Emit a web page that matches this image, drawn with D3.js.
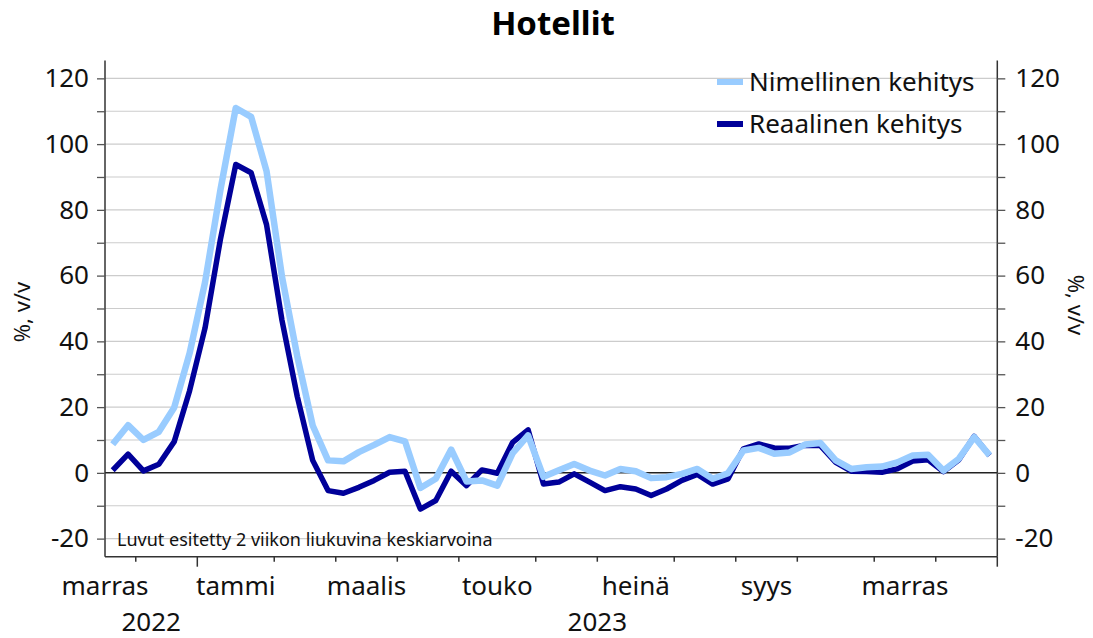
<!DOCTYPE html>
<html>
<head>
<meta charset="utf-8">
<script src="https://cdn.jsdelivr.net/npm/d3@7"></script>
<style>
  body { margin: 0; background: #fff; }
  svg { font-family: "Noto Sans", sans-serif; }
</style>
</head>
<body>
<div id="chart"></div>
<script>
// weekly data, 2 week moving averages, % y/y
const firstWeek = new Date(2022, 10, 21);   // monday of the first week
const lastWeek = new Date(2023, 11, 25);

const nominal = [8.7, 14.5, 10.0, 12.5, 19.9, 36.4, 57.9, 86, 111, 108.3,
  91.8, 59.8, 35.4, 14.4, 3.8, 3.5, 6.3, 8.5, 10.9, 9.6,
  -4.6, -1.8, 7.1, -2.6, -2.3, -3.9, 6.0, 11.4, -1.2, 0.8,
  2.7, 0.7, -0.8, 1.2, 0.5, -1.6, -1.3, -0.3, 1.2, -1.8,
  -0.1, 6.8, 7.6, 5.8, 6.2, 8.6, 9.1, 3.8, 1.2, 1.7,
  1.9, 3.2, 5.3, 5.5, 0.7, 4.3, 10.9, 5.3];

const real = [0.8, 5.7, 0.6, 2.6, 9.5, 25, 44, 71, 93.8, 91.3,
  75.5, 46.5, 23.2, 3.8, -5.4, -6.2, -4.4, -2.3, 0.2, 0.5,
  -11.0, -8.4, 0.5, -3.9, 0.9, -0.1, 9.3, 13.1, -3.4, -2.8,
  -0.3, -2.8, -5.4, -4.2, -4.9, -6.9, -4.9, -2.3, -0.5, -3.4,
  -1.8, 7.3, 8.8, 7.6, 7.5, 8.4, 8.3, 3.2, 0.5, 0.4,
  0.2, 1.2, 3.6, 4.0, 0.4, 4.0, 11.1, 5.3];

const seriesNames = ["Nimellinen kehitys", "Reaalinen kehitys"];
const seriesColors = ["#99ccff", "#000099"];

const monthLabels = ["marras", "tammi", "maalis", "touko", "heinä", "syys", "marras"];
const monthLabelDates = [[2022, 10], [2023, 0], [2023, 2], [2023, 4], [2023, 6], [2023, 8], [2023, 10]];
const yearLabels = ["2022", "2023"];
const yTicks = [-20, -10, 0, 10, 20, 30, 40, 50, 60, 70, 80, 90, 100, 110, 120];

const W = 1093, H = 638;
const plotLeft = 105, plotRight = 997.3, plotTop = 60.6, plotBottom = 556.7;

const svg = d3.select("#chart").append("svg")
    .attr("width", W)
    .attr("height", H);

const weeks = d3.timeMonday.range(firstWeek, d3.timeDay.offset(lastWeek, 1));
const domainEnd = d3.timeMonday.offset(lastWeek, 1);

const x = d3.scaleTime()
    .domain([firstWeek, domainEnd])
    .range([plotLeft, plotRight]);

const y = d3.scaleLinear()
    .domain([-25.5, 125.4])
    .range([plotBottom, plotTop]);

// middle of week
const xw = d => x(new Date(+d + 3.5 * 864e5));

// title
svg.append("text")
    .attr("x", 553)
    .attr("y", 35)
    .attr("text-anchor", "middle")
    .attr("font-size", "33px")
    .attr("font-weight", "bold")
    .text("Hotellit");

// gridlines
svg.append("g")
    .selectAll("line")
    .data(yTicks.filter(d => d !== 0))
    .join("line")
    .attr("x1", plotLeft).attr("x2", plotRight)
    .attr("y1", d => y(d)).attr("y2", d => y(d))
    .attr("stroke", "#cccccc")
    .attr("stroke-width", 1.2);

svg.append("line")
    .attr("x1", plotLeft).attr("x2", plotRight)
    .attr("y1", y(0)).attr("y2", y(0))
    .attr("stroke", "#222")
    .attr("stroke-width", 1.5);

// y axes
const yAxisL = svg.append("g")
    .attr("transform", `translate(${plotLeft},0)`)
    .call(d3.axisLeft(y).tickValues(yTicks).tickSize(8).tickPadding(8)
        .tickFormat(d => d % 20 === 0 ? String(d) : ""));
const yAxisR = svg.append("g")
    .attr("transform", `translate(${plotRight},0)`)
    .call(d3.axisRight(y).tickValues(yTicks).tickSize(8).tickPadding(10)
        .tickFormat(d => d % 20 === 0 ? String(d) : ""));

[yAxisL, yAxisR].forEach(g => {
  g.select(".domain").attr("d", `M0,${plotTop}V${plotBottom}`).attr("stroke", "#333").attr("stroke-width", 1.5);
  g.selectAll(".tick line").attr("stroke", "#555").attr("stroke-width", 1.3);
  g.selectAll(".tick text").attr("font-size", "26px").attr("fill", "#111")
      .attr("font-family", "Noto Sans");
});

// x axis
svg.append("line")
    .attr("x1", plotLeft).attr("x2", plotRight)
    .attr("y1", plotBottom).attr("y2", plotBottom)
    .attr("stroke", "#333")
    .attr("stroke-width", 1.5);

const monthTicks = d3.timeMonth.range(new Date(2022, 11, 1), new Date(2024, 0, 2))
    .map(m => d3.timeMonday.ceil(m));

svg.append("g")
    .selectAll("line")
    .data(monthTicks)
    .join("line")
    .attr("x1", d => x(d)).attr("x2", d => x(d))
    .attr("y1", plotBottom)
    .attr("y2", d => plotBottom + (d.getMonth() === 0 ? 10 : 5))
    .attr("stroke", "#333")
    .attr("stroke-width", 1.5);

svg.append("g")
    .selectAll("text")
    .data(monthLabels)
    .join("text")
    .attr("x", (d, i) => {
      const [yy, mm] = monthLabelDates[i];
      const a = d3.timeMonday.ceil(new Date(yy, mm, 1));
      const b = d3.timeMonday.ceil(new Date(yy, mm + 1, 1));
      return (x(a) + x(b)) / 2;
    })
    .attr("y", 595)
    .attr("text-anchor", "middle")
    .attr("font-size", "26px")
    .attr("fill", "#111")
    .text(d => d);

const yearStart = d3.timeMonday.ceil(new Date(2023, 0, 1));
svg.append("g")
    .selectAll("text")
    .data(yearLabels)
    .join("text")
    .attr("x", (d, i) => i === 0 ? (x(firstWeek) + x(yearStart)) / 2 : (x(yearStart) + x(domainEnd)) / 2)
    .attr("y", 631)
    .attr("text-anchor", "middle")
    .attr("font-size", "26px")
    .attr("fill", "#111")
    .text(d => d);

// axis titles
svg.append("text")
    .attr("transform", "translate(30,312) rotate(-90)")
    .attr("text-anchor", "middle")
    .attr("font-size", "22px")
    .attr("fill", "#111")
    .text("%, v/v");
svg.append("text")
    .attr("transform", "translate(1068,305) rotate(90)")
    .attr("text-anchor", "middle")
    .attr("font-size", "22px")
    .attr("fill", "#111")
    .text("%, v/v");

// note
svg.append("text")
    .attr("x", 117)
    .attr("y", 546)
    .attr("font-size", "18px")
    .attr("fill", "#111")
    .text("Luvut esitetty 2 viikon liukuvina keskiarvoina");

// lines
const line = d3.line()
    .x((d, i) => xw(weeks[i]))
    .y(d => y(d))
    .curve(d3.curveLinear);

svg.append("path")
    .datum(real)
    .attr("fill", "none")
    .attr("stroke", seriesColors[1])
    .attr("stroke-width", 5.5)
    .attr("stroke-linejoin", "round")
    .attr("d", line);

svg.append("path")
    .datum(nominal)
    .attr("fill", "none")
    .attr("stroke", seriesColors[0])
    .attr("stroke-width", 6.5)
    .attr("stroke-linejoin", "round")
    .attr("d", line);

// legend
const legend = svg.append("g");
seriesNames.forEach((name, i) => {
  legend.append("rect")
      .attr("x", 717).attr("y", 79 + i * 42)
      .attr("width", 26).attr("height", 6)
      .attr("fill", seriesColors[i]);
  legend.append("text")
      .attr("x", 749).attr("y", 82 + i * 42)
      .attr("dy", "0.35em")
      .attr("font-size", "26px")
      .attr("fill", "#111")
      .text(name);
});
</script>
</body>
</html>
